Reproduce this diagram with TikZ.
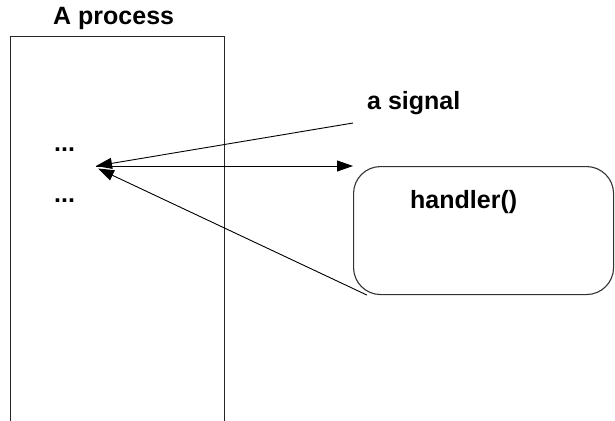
\documentclass[tikz,border=0pt]{standalone}
\usepackage{fontspec}
\setmainfont{Liberation Sans}
\usetikzlibrary{arrows.meta}
\tikzset{
  lbl/.style={anchor=base west, inner sep=0pt, font=\fontsize{25}{30}\selectfont\bfseries},
  conn/.style={draw=black, line width=0.9pt},
  arr/.style={conn, -{Triangle[length=16pt,width=11pt]}},
  procbox/.style={draw=black!85, line width=1pt, inner sep=0pt, anchor=north west,
                  minimum width=214pt, minimum height=420pt},
  handbox/.style={draw=black!80, line width=1.1pt, inner sep=0pt, anchor=north west,
                  rounded corners=27pt, minimum width=260pt, minimum height=128pt}
}
\begin{document}
\begin{tikzpicture}[x=1pt,y=-1pt]
\useasboundingbox (0,0) rectangle (615,420);
\clip (0,0) rectangle (615,420);
\fill[white] (0,0) rectangle (615,420);
% process box (its bottom runs off the picture)
\node[procbox] (proc) at (10,36) {};
\node[lbl] (ptitle) at (53,25) {A process};
\node[lbl] (dots1) at (54,151) {...};
\node[lbl] (dots2) at (54,202) {...};
% handler box
\node[handbox] (handler) at (353,166) {};
\node[lbl] (htext) at (410,208) {handler()};
% signal label
\node[lbl] (signal) at (367,109) {a signal};
% connector points
\coordinate (tip) at (96,166);
\coordinate (tip2) at (98,168.5);
\coordinate (sigend) at (353,123);
\coordinate (hback) at ([xshift=14pt]handler.south west);
% connectors
\draw[arr] (sigend) -- (tip);
\draw[arr] (tip) -- (handler.north west);
\draw[arr] (hback) -- (tip2);
\end{tikzpicture}
\end{document}
